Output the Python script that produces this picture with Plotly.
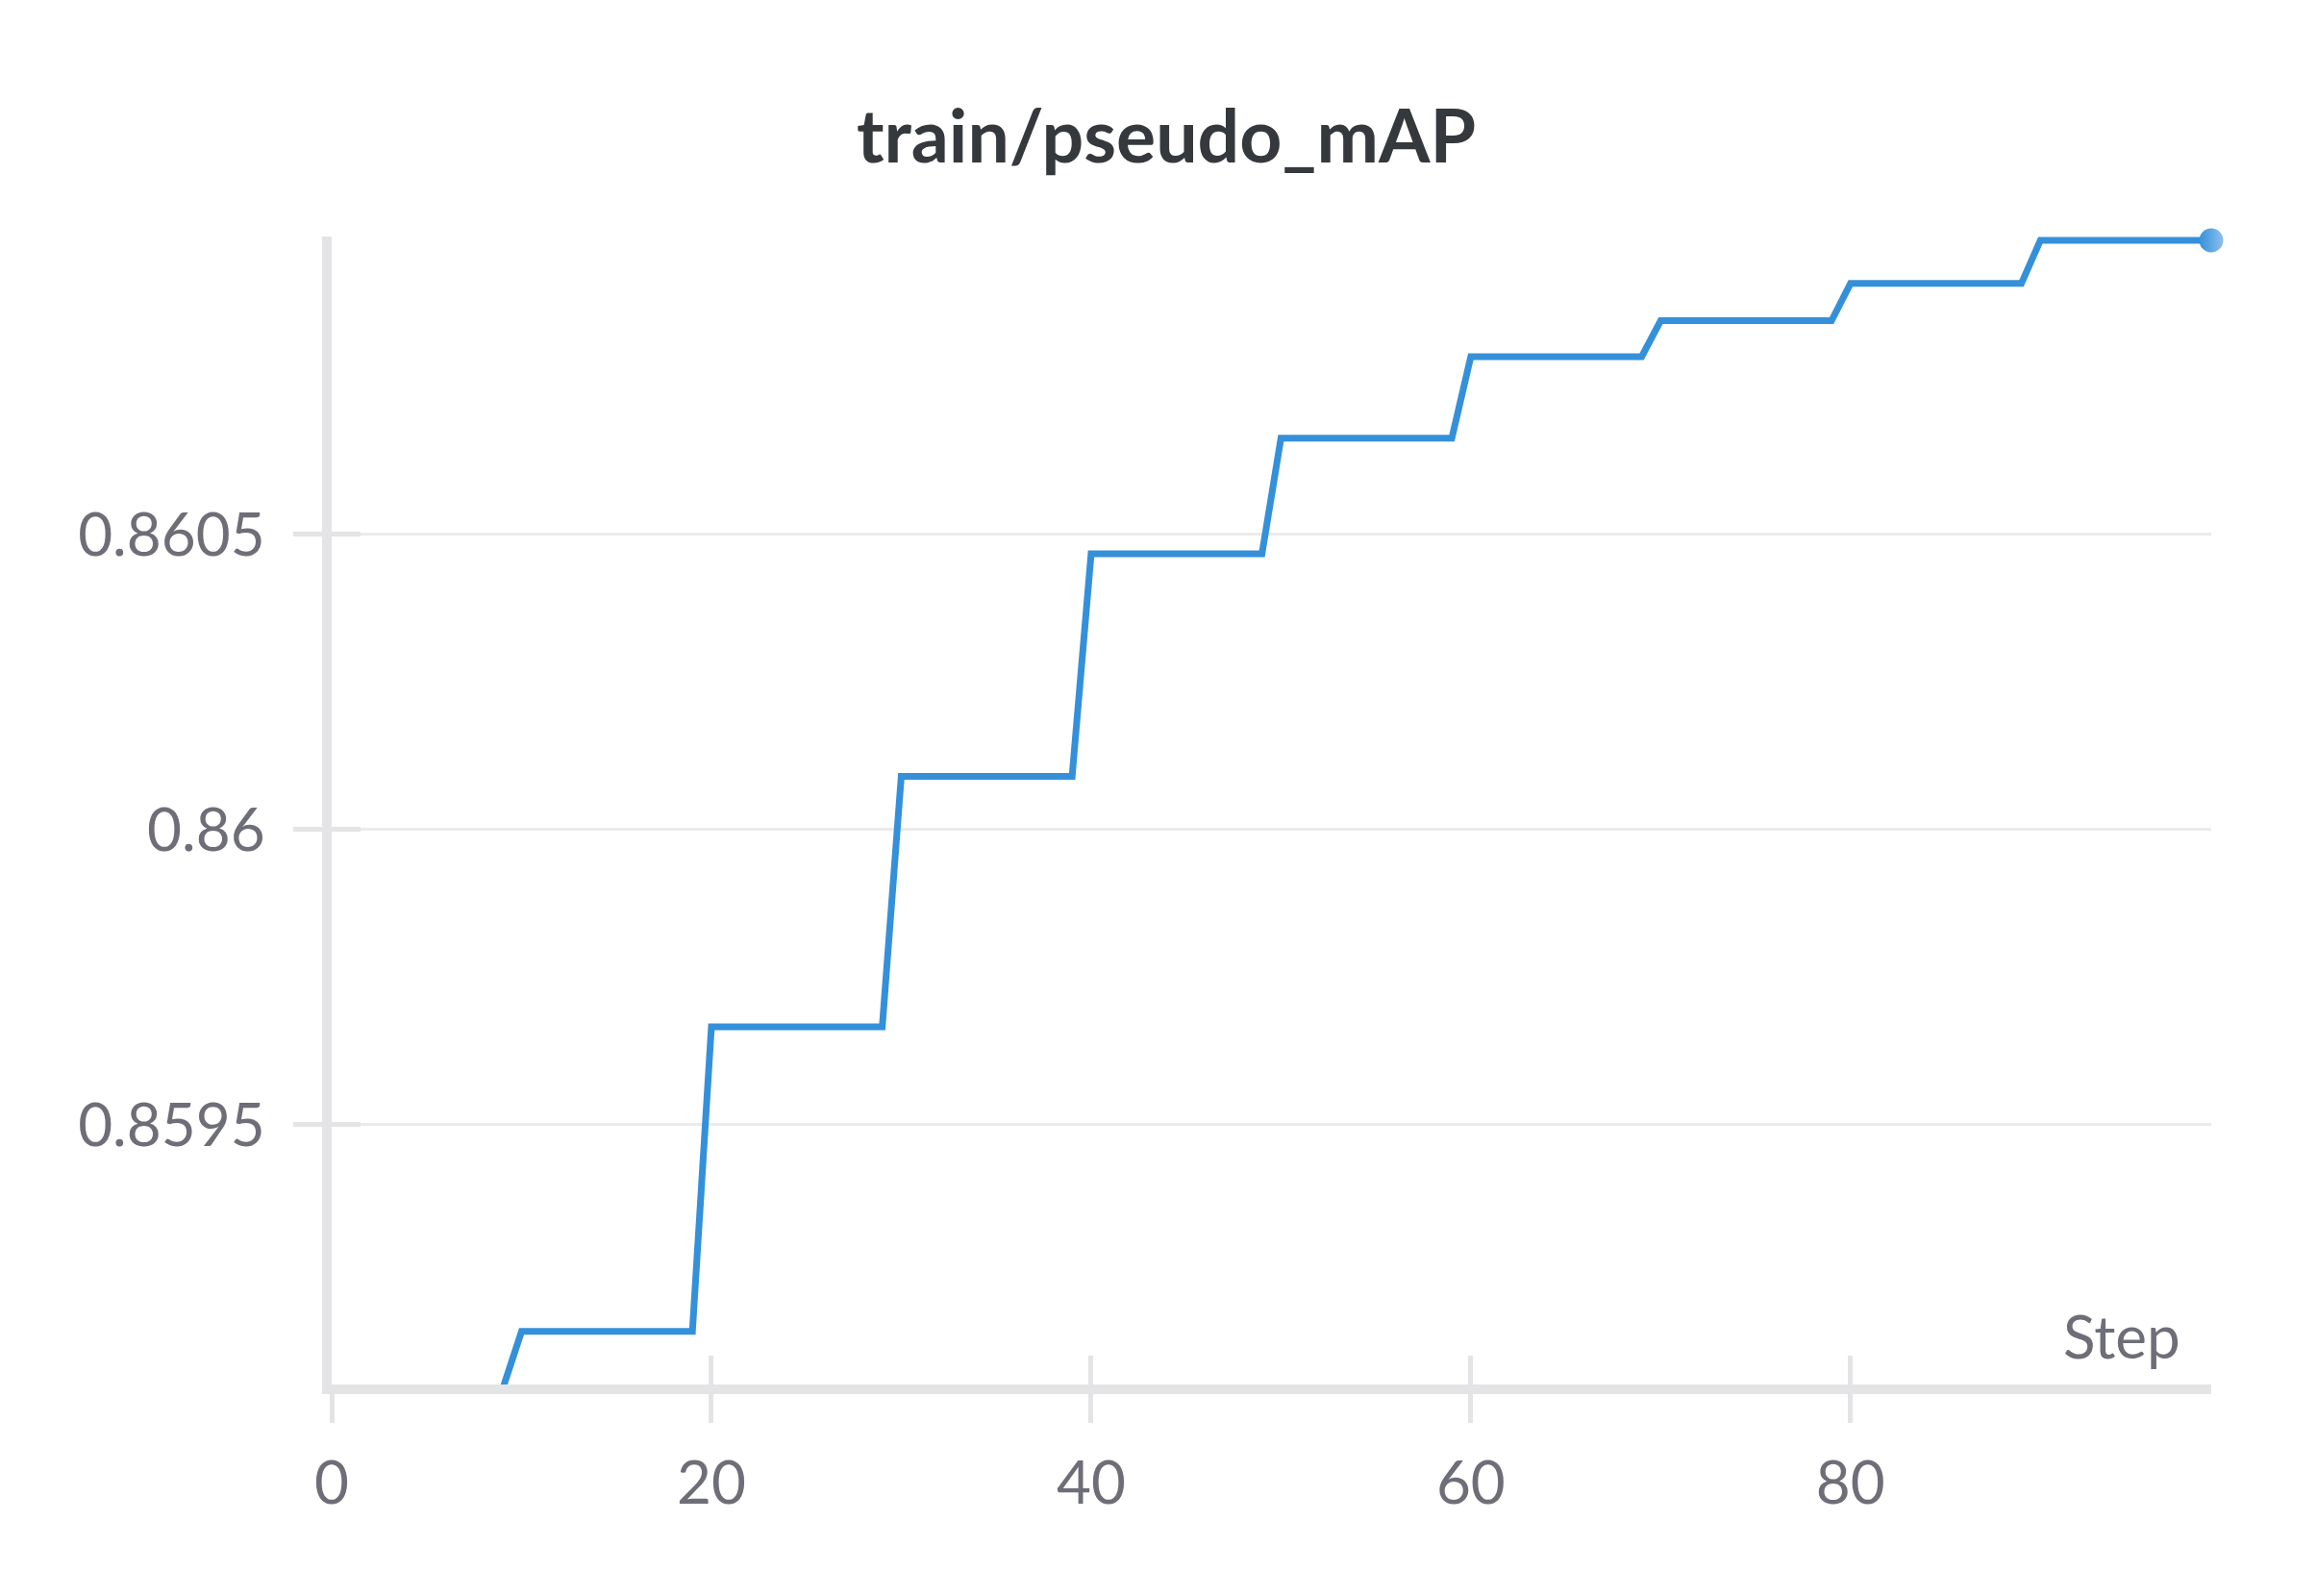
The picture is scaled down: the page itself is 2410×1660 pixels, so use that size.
import plotly.graph_objects as go

# wandb-style panel: train/pseudo_mAP against step
TITLE = "train/pseudo_mAP"
X_LABEL = "Step"

steps = list(range(100))
# value only changes every 10 steps (one level per block)
levels = [0.859052, 0.859150, 0.859666, 0.860090, 0.860467,
          0.860663, 0.860801, 0.860862, 0.860925, 0.860998]
values = [levels[s // 10] for s in steps]

y_tickvals = [0.8595, 0.86, 0.8605]
y_ticktext = ["0.8595", "0.86", "0.8605"]
x_tickvals = [0, 20, 40, 60, 80]
x_ticktext = ["0", "20", "40", "60", "80"]

LINE_COLOR = "#3590da"
AXIS_COLOR = "#e4e4e7"
GRID_COLOR = "#ebebeb"
TEXT_COLOR = "#6e6e78"
TITLE_COLOR = "#35383d"
FONT = "Source Sans Pro, Lato, sans-serif"

fig = go.Figure()
fig.add_trace(go.Scatter(
    x=steps, y=values, mode="lines",
    line=dict(color=LINE_COLOR, width=7),
    showlegend=False,
))
# dot on the last logged point
fig.add_trace(go.Scatter(
    x=steps[-1:], y=values[-1:], mode="markers",
    marker=dict(color=LINE_COLOR, size=25,
                gradient=dict(type="horizontal", color="#8cc0ec"),
                line=dict(width=0)),
    cliponaxis=False, showlegend=False,
))

# lowest block hides under the axis line; leave room so the top one isn't clipped
px = 0.0005 / 307
y_lo = min(values) + 5 * px
y_hi = max(values) + 4 * px

tick_font = dict(family=FONT, size=62, color=TEXT_COLOR)
fig.update_layout(
    width=2410, height=1660,
    margin=dict(l=337, r=118, t=238, b=228),
    paper_bgcolor="white", plot_bgcolor="white",
    font=dict(family=FONT),
    title=dict(
        text=f"<b>{TITLE}</b>", x=0.5, xanchor="center",
        y=1 - 134 / 1660, yanchor="middle",
        font=dict(family=FONT, size=77, color=TITLE_COLOR),
    ),
    xaxis=dict(
        range=[0, 99], tickvals=x_tickvals, ticktext=x_ticktext,
        showgrid=False, zeroline=False,
        showline=True, linewidth=10, linecolor=AXIS_COLOR,
        ticks="outside", ticklen=30, tickwidth=5, tickcolor=AXIS_COLOR,
        ticklabelstandoff=10, tickfont=tick_font,
    ),
    yaxis=dict(
        range=[y_lo, y_hi], tickvals=y_tickvals, ticktext=y_ticktext,
        showgrid=True, gridcolor=GRID_COLOR, gridwidth=3, zeroline=False,
        showline=True, linewidth=10, linecolor=AXIS_COLOR,
        ticks="outside", ticklen=30, tickwidth=5, tickcolor=AXIS_COLOR,
        ticklabelstandoff=17, tickfont=tick_font,
    ),
    # twin axes only to draw the inner half of the crossing tick marks
    xaxis2=dict(
        overlaying="x", anchor="y", side="bottom", matches="x",
        tickvals=x_tickvals, showticklabels=False, showgrid=False,
        zeroline=False, showline=False,
        ticks="inside", ticklen=30, tickwidth=5, tickcolor=AXIS_COLOR,
    ),
    yaxis2=dict(
        overlaying="y", anchor="x", side="left", matches="y",
        tickvals=y_tickvals, showticklabels=False, showgrid=False,
        zeroline=False, showline=False,
        ticks="inside", ticklen=30, tickwidth=5, tickcolor=AXIS_COLOR,
    ),
    annotations=[dict(
        text=X_LABEL, xref="paper", yref="paper", x=1, y=0,
        xanchor="right", yanchor="bottom", xshift=-30, yshift=12,
        showarrow=False, font=tick_font,
    )],
)
# empty trace so the twin axes get drawn
fig.add_trace(go.Scatter(x=[None], y=[None], xaxis="x2", yaxis="y2",
                         showlegend=False, hoverinfo="skip"))

fig.write_html("out.html")
